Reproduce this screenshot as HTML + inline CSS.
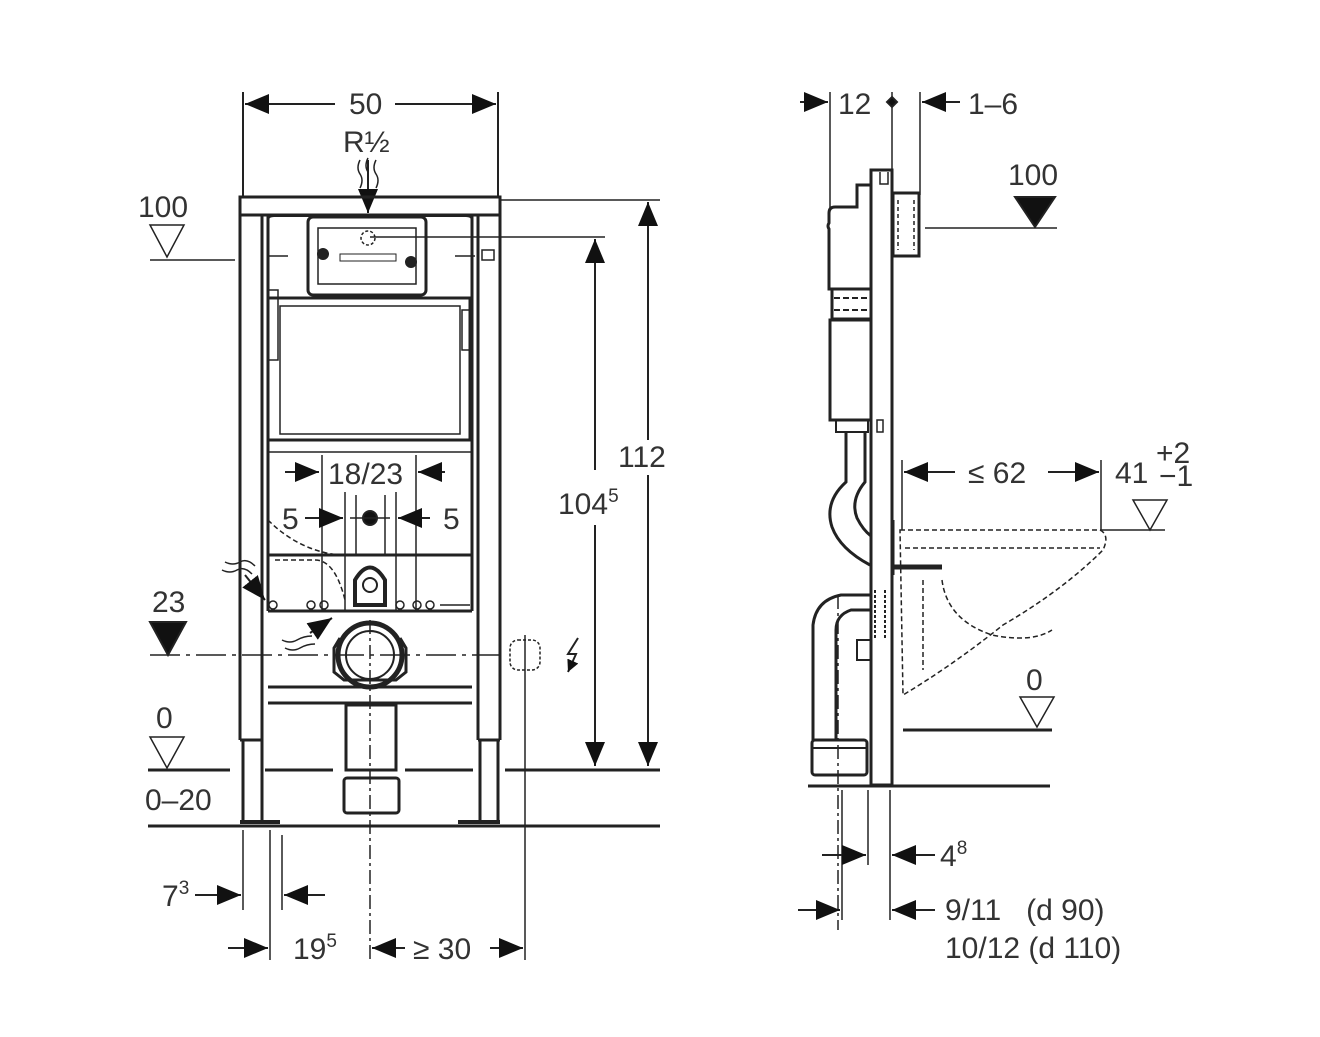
<!DOCTYPE html>
<html><head><meta charset="utf-8"><style>
html,body{margin:0;padding:0;background:#fff}
svg{display:block}
text{font-family:"Liberation Sans",sans-serif;fill:#333;font-size:30px}
</style></head><body>
<svg width="1320" height="1037" viewBox="0 0 1320 1037" xmlns="http://www.w3.org/2000/svg">
<defs>
<marker id="a" viewBox="0 0 10 10" refX="10" refY="5" markerWidth="12" markerHeight="12" markerUnits="userSpaceOnUse" orient="auto-start-reverse"><path d="M0,0L10,5L0,10z" fill="#111"/></marker>
<marker id="b" viewBox="0 0 24 20" refX="24" refY="10" markerWidth="24" markerHeight="20" markerUnits="userSpaceOnUse" orient="auto-start-reverse"><path d="M0,0L24,10L0,20z" fill="#111"/></marker>
</defs>
<g stroke="#222" stroke-width="2" fill="none">
<!-- LEFT VIEW -->
<line x1="243" y1="92" x2="243" y2="197"/><line x1="498" y1="92" x2="498" y2="197"/>
<line x1="245" y1="104" x2="335" y2="104" marker-start="url(#b)"/><line x1="395" y1="104" x2="496" y2="104" marker-end="url(#b)"/>
<line x1="368" y1="160" x2="368" y2="213" marker-end="url(#b)"/>
<path d="M360,160q-4,8 0,14t0,14M368,158q-4,8 0,14M376,160q-4,8 0,14t0,14" stroke-width="1.5"/>
<rect x="240" y="197" width="260" height="18" stroke-width="3"/>
<path d="M240,215V740M262,215V740M240,740h22M243,740V822M262,740V822" stroke-width="3"/>
<path d="M478,215V740M500,215V740M478,740h22M480,740V822M498,740V822" stroke-width="3"/>
<path d="M240,822h40M458,822h42" stroke-width="4"/>
<path d="M268,215V611M472,215V611" stroke-width="3"/>
<path d="M268,220q0,-4 6,-4h192q6,0 6,4" stroke-width="2"/>
<rect x="308" y="217" width="118" height="78" rx="5" stroke-width="3"/>
<rect x="318" y="228" width="98" height="56" stroke-width="1.5"/>
<circle cx="368" cy="238" r="7" stroke-dasharray="3 2" stroke-width="1.5"/>
<rect x="340" y="254" width="56" height="7" stroke-width="1"/>
<circle cx="323" cy="254" r="5" fill="#222"/><circle cx="411" cy="262" r="5" fill="#222"/>
<line x1="370" y1="237" x2="605" y2="237" stroke-width="1.5"/>
<path d="M268,256h20M455,256h20" stroke-width="1.5"/><rect x="482" y="250" width="12" height="10" stroke-width="1.5"/>
<path d="M268,298h202v142h-202z" stroke-width="3"/>
<rect x="280" y="306" width="180" height="128" stroke-width="1.5"/>
<rect x="268" y="290" width="10" height="70" stroke-width="1.5"/><rect x="462" y="310" width="10" height="40" stroke-width="1.5"/>
<line x1="268" y1="452" x2="472" y2="452" stroke-width="1.5"/>
<line x1="268" y1="555" x2="472" y2="555" stroke-width="3"/>
<line x1="268" y1="611" x2="472" y2="611" stroke-width="3"/>
<path d="M268,520q30,30 70,35M275,560h40q20,0 30,40" stroke-dasharray="5 3" stroke-width="1.5"/>
<line x1="285" y1="472" x2="319" y2="472" marker-end="url(#b)"/>
<line x1="445" y1="472" x2="418" y2="472" marker-end="url(#b)"/>
<line x1="322" y1="455" x2="322" y2="610" stroke-width="1.5"/><line x1="416" y1="455" x2="416" y2="610" stroke-width="1.5"/>
<line x1="305" y1="518" x2="343" y2="518" marker-end="url(#b)"/><line x1="430" y1="518" x2="398" y2="518" marker-end="url(#b)"/>
<line x1="345" y1="492" x2="345" y2="610" stroke-width="1.5"/><line x1="396" y1="492" x2="396" y2="610" stroke-width="1.5"/>
<line x1="356" y1="495" x2="356" y2="555" stroke-width="1.5"/><line x1="385" y1="495" x2="385" y2="555" stroke-width="1.5"/>
<circle cx="370" cy="518" r="7" fill="#111"/><line x1="350" y1="518" x2="390" y2="518" stroke-width="1.5"/>
<path d="M355,605v-25q15,-25 30,0v25z" stroke-width="4"/><circle cx="370" cy="585" r="7"/>
<g stroke-width="1.5"><circle cx="273" cy="605" r="4"/><circle cx="311" cy="605" r="4"/><circle cx="324" cy="605" r="4"/><circle cx="400" cy="605" r="4"/><circle cx="417" cy="605" r="4"/><circle cx="430" cy="605" r="4"/><path d="M440,605h30"/></g>
<path d="M225,562q8,4 15,0t15,4M222,570q8,4 15,0t15,4" stroke-width="1.5"/>
<line x1="245" y1="575" x2="265" y2="600" marker-end="url(#b)"/>
<path d="M282,640q8,4 15,0t15,-4M285,648q8,4 15,0t15,-4" stroke-width="1.5"/>
<line x1="310" y1="633" x2="332" y2="618" marker-end="url(#b)"/>
<circle cx="370" cy="655" r="32" stroke-width="5"/><circle cx="370" cy="655" r="24" stroke-width="2"/>
<path d="M340,638l-6,10v24l10,8h52l10,-8v-24l-6,-10" stroke-width="3"/>
<line x1="268" y1="687" x2="472" y2="687" stroke-width="3"/>
<line x1="268" y1="703" x2="472" y2="703" stroke-width="3"/>
<rect x="346" y="705" width="50" height="65" stroke-width="3"/>
<rect x="344" y="778" width="55" height="35" rx="3" stroke-width="3"/>
<line x1="370" y1="620" x2="370" y2="960" stroke-dasharray="14 4 3 4" stroke-width="1.5"/>
<rect x="510" y="640" width="30" height="30" rx="8" stroke-dasharray="3 2" stroke-width="1.5"/>
<path d="M525,635v40" stroke-width="1.5"/>
<path d="M578,638l-10,16h8l-8,18" stroke-width="2" marker-end="url(#a)"/>
<path d="M150,225h34l-17,32z" stroke-width="1.5"/><line x1="150" y1="260" x2="235" y2="260" stroke-width="1.5"/>
<path d="M150,622h36l-18,33z" fill="#111"/>
<line x1="150" y1="655" x2="500" y2="655" stroke-dasharray="30 6 4 6" stroke-width="1.5"/>
<path d="M150,737h34l-17,31z" stroke-width="1.5"/>
<path d="M148,770h82M265,770h68M405,770h68M505,770h155" stroke-width="3"/>
<line x1="148" y1="826" x2="660" y2="826" stroke-width="3"/>
<line x1="500" y1="200" x2="660" y2="200" stroke-width="1.5"/>
<line x1="648" y1="202" x2="648" y2="440" marker-start="url(#b)"/><line x1="648" y1="475" x2="648" y2="766" marker-end="url(#b)"/>
<line x1="595" y1="239" x2="595" y2="470" marker-start="url(#b)"/><line x1="595" y1="525" x2="595" y2="766" marker-end="url(#b)"/>
<g stroke-width="1.5"><line x1="243" y1="830" x2="243" y2="910"/><line x1="270" y1="830" x2="270" y2="960"/><line x1="282" y1="835" x2="282" y2="910"/><line x1="525" y1="675" x2="525" y2="960"/></g>
<line x1="195" y1="895" x2="241" y2="895" marker-end="url(#b)"/><line x1="325" y1="895" x2="284" y2="895" marker-end="url(#b)"/>
<line x1="228" y1="948" x2="268" y2="948" marker-end="url(#b)"/>
<line x1="405" y1="948" x2="372" y2="948" marker-end="url(#b)"/><line x1="490" y1="948" x2="523" y2="948" marker-end="url(#b)"/>

<!-- RIGHT VIEW -->
<line x1="830" y1="92" x2="830" y2="210" stroke-width="1.5"/><line x1="920" y1="92" x2="920" y2="195" stroke-width="1.5"/>
<line x1="800" y1="102" x2="828" y2="102" marker-end="url(#b)"/><line x1="960" y1="102" x2="922" y2="102" marker-end="url(#b)"/>
<line x1="892" y1="92" x2="892" y2="170" stroke-width="1.5"/>
<path d="M892,97l5,5l-5,5l-5,-5z" fill="#111"/>
<path d="M871,170h21v615h-21z" stroke-width="3"/>
<path d="M880,172v12h8v-12" stroke-width="1.5"/>
<!-- cistern body -->
<path d="M871,185h-14v22h-22q-6,0 -6,6v10q-2,3 0,6v60h41" stroke-width="3"/>
<path d="M832,289h39v30h-39z" stroke-width="3"/>
<path d="M834,298h34M834,310h34" stroke-dasharray="6 3" stroke-width="2"/>
<path d="M830,320h41v100h-41z" stroke-width="3"/>
<path d="M836,420v12h32v-12" stroke-width="2"/>
<rect x="893" y="193" width="26" height="63" stroke-width="3"/>
<path d="M898,200v50M914,200v50" stroke-dasharray="4 3" stroke-width="1.5"/>
<path d="M1015,197h40l-20,30z" fill="#111"/>
<line x1="925" y1="228" x2="1057" y2="228" stroke-width="1.5"/>
<!-- flexible pipe -->
<path d="M846,432v50q-22,20 -14,45q8,22 38,38M865,432v50q-15,18 -8,36q6,12 14,18" stroke-width="3"/>
<rect x="877" y="420" width="6" height="12" stroke-width="1.5"/>
<path d="M871,595h-30q-25,5 -28,30v115M871,610h-20q-15,5 -15,20v110" stroke-width="3"/>
<path d="M857,640h14v20h-14z" stroke-width="2"/>
<rect x="812" y="740" width="55" height="35" rx="3" stroke-width="3"/>
<line x1="812" y1="748" x2="867" y2="748" stroke-width="2"/>
<path d="M875,590v50M885,590v50" stroke-dasharray="3 2" stroke-width="2"/>
<line x1="893" y1="567" x2="942" y2="567" stroke-width="5"/>
<line x1="893" y1="520" x2="893" y2="575" stroke-width="3"/>
<line x1="838" y1="595" x2="838" y2="930" stroke-dasharray="14 4 3 4" stroke-width="1.5"/>
<g stroke-dasharray="5 3" stroke-width="1.5">
<path d="M900,530h200q10,5 3,20q-40,40 -100,75q-50,40 -100,70z"/>
<path d="M905,548h195M923,580v90M942,580q5,40 50,55q40,8 60,-5"/>
</g>
<line x1="902" y1="460" x2="902" y2="530" stroke-width="1.5"/><line x1="1101" y1="460" x2="1101" y2="530" stroke-width="1.5"/>
<line x1="904" y1="472" x2="955" y2="472" marker-start="url(#b)"/><line x1="1048" y1="472" x2="1099" y2="472" marker-end="url(#b)"/>
<path d="M1133,500h34l-17,30z" stroke-width="1.5"/><line x1="1100" y1="530" x2="1165" y2="530" stroke-width="1.5"/>
<path d="M1020,697h34l-17,30z" stroke-width="1.5"/>
<line x1="903" y1="730" x2="1052" y2="730" stroke-width="3"/>
<line x1="808" y1="786" x2="1050" y2="786" stroke-width="3"/>
<g stroke-width="1.5"><line x1="842" y1="790" x2="842" y2="920"/><line x1="868" y1="790" x2="868" y2="865"/><line x1="890" y1="790" x2="890" y2="920"/></g>
<line x1="822" y1="855" x2="866" y2="855" marker-end="url(#b)"/><line x1="935" y1="855" x2="892" y2="855" marker-end="url(#b)"/>
<line x1="798" y1="910" x2="840" y2="910" marker-end="url(#b)"/><line x1="935" y1="910" x2="892" y2="910" marker-end="url(#b)"/>
</g>
<text x="349" y="114">50</text>
<text x="343" y="152" font-size="28">R½</text>
<text x="138" y="217">100</text>
<text x="152" y="612">23</text>
<text x="156" y="728">0</text>
<text x="145" y="810">0–20</text>
<text x="328" y="484">18/23</text>
<text x="282" y="529">5</text>
<text x="443" y="529">5</text>
<text x="558" y="514">104<tspan font-size="19" dy="-12">5</tspan></text>
<text x="618" y="467">112</text>
<text x="162" y="906">7<tspan font-size="19" dy="-12">3</tspan></text>
<text x="293" y="959">19<tspan font-size="19" dy="-12">5</tspan></text>
<text x="413" y="959">≥ 30</text>
<text x="838" y="114">12</text>
<text x="968" y="114">1–6</text>
<text x="1008" y="185">100</text>
<text x="968" y="483">≤ 62</text>
<text x="1115" y="483">41</text>
<text x="1156" y="463" font-size="20">+2</text>
<text x="1159" y="486" font-size="20">−1</text>
<text x="1026" y="690">0</text>
<text x="940" y="866">4<tspan font-size="19" dy="-12">8</tspan></text>
<text x="945" y="920">9/11&#160;&#160;&#160;(d 90)</text>
<text x="945" y="958">10/12 (d 110)</text>
</svg>
</body></html>
